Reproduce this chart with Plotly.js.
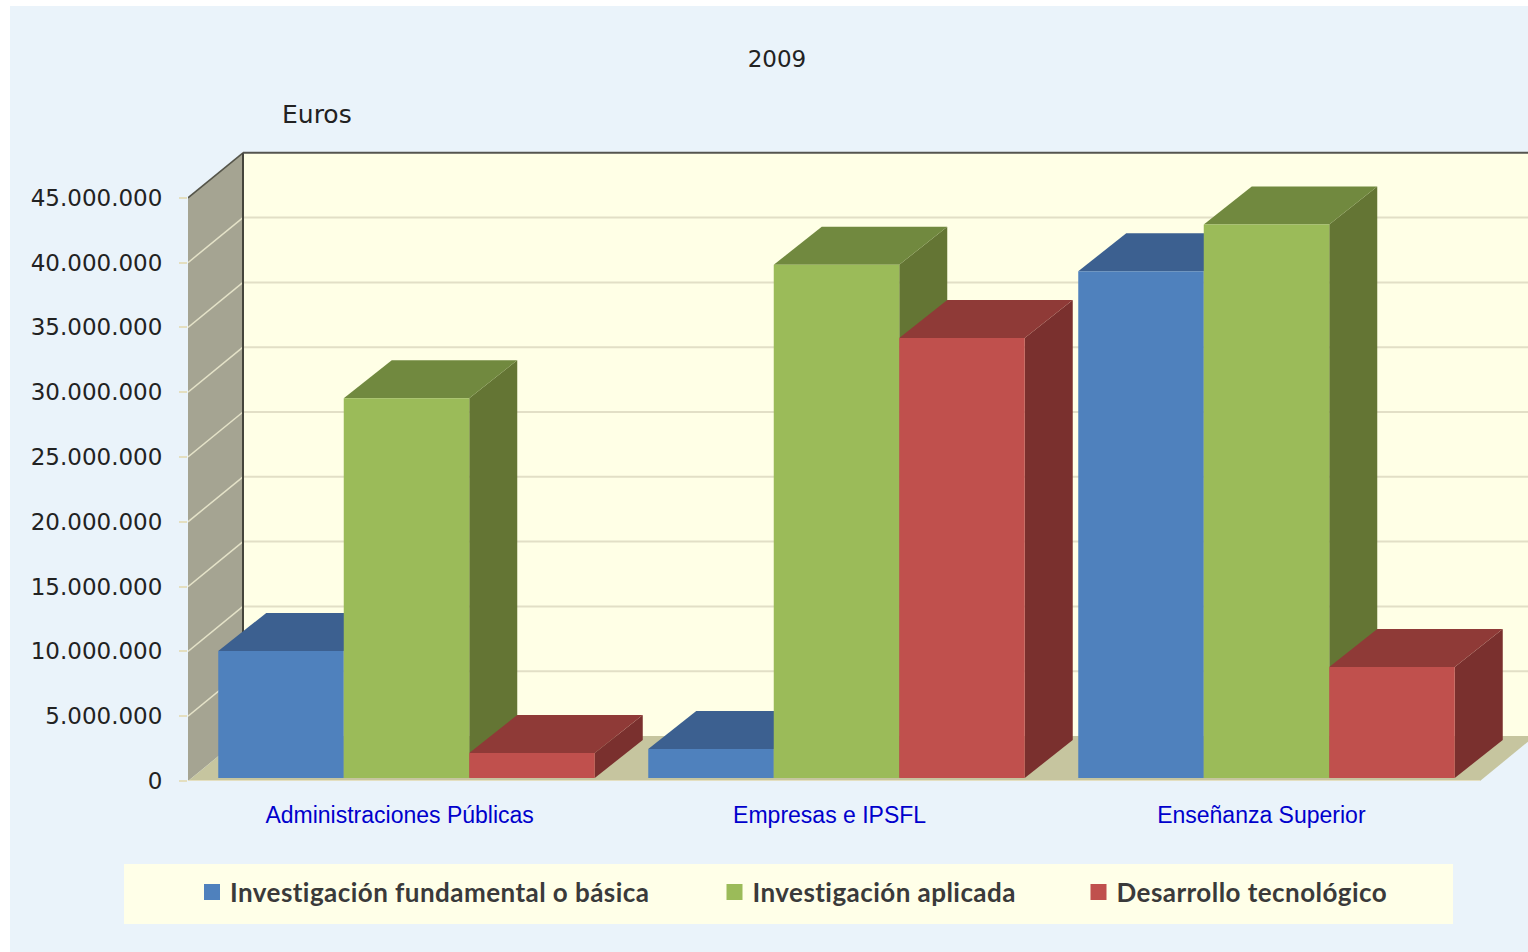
<!DOCTYPE html>
<html><head><meta charset="utf-8">
<script src="https://cdn.plot.ly/plotly-3.0.1.min.js"></script>
<style>html,body{margin:0;padding:0;background:#fff;overflow:hidden}#c{width:1528px;height:952px}
.legendtext,.legend2text,.legend3text{letter-spacing:.45px}
.legendpoints path{d:path("M10,8H-6V-8H10z") !important}</style>
</head><body><div id="c"></div>
<script>
const categories = ["Administraciones Públicas", "Empresas e IPSFL", "Enseñanza Superior"];
const basica = [9800000, 2240000, 39100000];
const aplicada = [29300000, 39600000, 42700000];
const desarrollo = [1930000, 33950000, 8560000];
const seriesNames = ["Investigación fundamental o básica", "Investigación aplicada", "Desarrollo tecnológico"];
const yTicks = [0, 5e6, 10e6, 15e6, 20e6, 25e6, 30e6, 35e6, 40e6, 45e6];
const yTickLabels = ["0", "5.000.000", "10.000.000", "15.000.000", "20.000.000", "25.000.000", "30.000.000", "35.000.000", "40.000.000", "45.000.000"];

const front = ["#4F81BD", "#9BBB59", "#C0504D"];
const topC = ["#3C6090", "#71893F", "#8F3A37"];
const sideC = ["#355680", "#647534", "#7A302E"];

const W = 1528, H = 952, L = 188, R = 1528, B = 781, T = 150, C0 = 406.5;
const pxPerUnitY = 12.96 / 1e6, pxPerCat = 430;
const xMin = (L - C0) / pxPerCat, xMax = (R - C0) / pxPerCat, yMax = (B - T) / pxPerUnitY;
const dxPx = v => v / pxPerCat, dyPx = v => v / pxPerUnitY;
const px = x => (x - L) / (R - L), py = y => (B - y) / (B - T);

const barW = 376.5 / 3 / pxPerCat;
const bDx = dxPx(48), bDy = dyPx(38), base0 = dyPx(3);
const wDx = dxPx(55), wDy = dyPx(45);
const xFrontEnd = (1480 - C0) / pxPerCat;
const series = [basica, aplicada, desarrollo];
const labelShift = [-0.016, -0.016, -0.012];

const traces = [];
function poly(xs, ys, color) {
  traces.push({type: "scatter", mode: "lines", x: xs.concat(xs[0]), y: ys.concat(ys[0]), fill: "toself",
    fillcolor: color, line: {width: 0, color: color}, hoverinfo: "skip", showlegend: false, xaxis: "x", yaxis: "y"});
}
categories.forEach((c, i) => {
  series.forEach((s, j) => {
    const xl = i - 1.5 * barW + j * barW, xr = xl + barW, b = base0, h = base0 + s[i];
    poly([xr, xr + bDx, xr + bDx, xr], [b, b + bDy, h + bDy, h], sideC[j]);
    poly([xl, xr, xr + bDx, xl + bDx], [h, h, h + bDy, h + bDy], topC[j]);
  });
});
const legendIds = ["legend", "legend2", "legend3"];
series.forEach((s, j) => {
  traces.push({type: "bar", name: seriesNames[j], x: categories.map((c, i) => i), y: s, base: base0,
    marker: {color: front[j], line: {width: 0, color: front[j]}}, xaxis: "x2", yaxis: "y2", legend: legendIds[j]});
});

const shapes = [];
const rect = (x0, y0, x1, y1, c) => shapes.push({type: "rect", xref: "paper", yref: "paper", layer: "below",
  x0: px(x0), x1: px(x1), y0: py(y0), y1: py(y1), fillcolor: c, line: {width: 0}});
rect(10, 6, 1528, 952, "#EAF3FA");
rect(124, 864, 1453, 924, "#FFFFE8");
const path = (pts, fill, line) => shapes.push({type: "path", xref: "x", yref: "y", layer: "below",
  path: "M" + pts.map(p => p[0] + "," + p[1]).join("L") + "Z", fillcolor: fill, line: line || {width: 0}});
const seg = (x0, y0, x1, y1, c, w) => shapes.push({type: "line", xref: "x", yref: "y", layer: "below",
  x0, y0, x1, y1, line: {color: c, width: w}});
const top45 = yTicks[yTicks.length - 1];
path([[xMin + wDx, wDy], [xMax + 1, wDy], [xMax + 1, top45 + wDy], [xMin + wDx, top45 + wDy]], "#FFFFE6");
path([[xMin, 0], [xMin + wDx, wDy], [xMin + wDx, top45 + wDy], [xMin, top45]], "#A5A492");
path([[xMin, 0], [xFrontEnd, 0], [xFrontEnd + wDx, wDy], [xMin + wDx, wDy]], "#C6C59F");
yTicks.slice(1, -1).forEach(t => {
  seg(xMin + wDx, t + wDy, xMax + 1, t + wDy, "#E2DFC6", 2);
  seg(xMin, t, xMin + wDx, t + wDy, "#E4E2C8", 1.5);
});
seg(xMin, top45, xMin + wDx, top45 + wDy, "#55554A", 1.5);
seg(xMin + wDx, wDy, xMin + wDx, top45 + wDy, "#45453C", 2);
seg(xMin + wDx, top45 + wDy, xMax + 1, top45 + wDy, "#55554F", 2);
seg(xFrontEnd + wDx, wDy, xMax + 1, wDy, "#77776A", 1.5);
seg(dxPx(177 - C0), 0, xFrontEnd, 0, "#E4DFC0", 2);

const legendCommon = {orientation: "h", xanchor: "left", yanchor: "middle", bgcolor: "rgba(0,0,0,0)", borderwidth: 0,
  itemclick: false, itemdoubleclick: false, font: {family: "Lato", size: 26, weight: "bold", color: "#3a3a3a"}};

const layout = {
  width: W, height: H, autosize: false, showlegend: true,
  paper_bgcolor: "#FFFFFF", plot_bgcolor: "rgba(0,0,0,0)",
  margin: {l: L, r: W - R, t: T, b: H - B, pad: 0},
  title: {text: "2009", x: 777 / W, xref: "container", xanchor: "center", y: 1 - 59 / H, yref: "container", yanchor: "middle",
    font: {family: "DejaVu Sans", size: 23, color: "#222"}},
  barmode: "group", bargap: 1 - 3 * barW, bargroupgap: 0,
  xaxis: {type: "linear", range: [xMin, xMax], tickmode: "array", tickvals: categories.map((c, i) => i + labelShift[i]), ticktext: categories,
    showgrid: false, zeroline: false, showline: false, ticks: "", ticklabelstandoff: 18,
    tickfont: {family: "Liberation Sans", size: 23, color: "#0000CC"}, fixedrange: true},
  yaxis: {type: "linear", range: [0, yMax], tickmode: "array", tickvals: yTicks, ticktext: yTickLabels,
    showgrid: false, zeroline: false, showline: false, ticks: "outside", ticklen: 8, tickwidth: 2, tickcolor: "#E4DFC0",
    ticklabelstandoff: 12, tickfont: {family: "DejaVu Sans", size: 23, color: "#222"}, fixedrange: true},
  xaxis2: {type: "linear", overlaying: "x", range: [xMin, xMax], visible: false, fixedrange: true},
  yaxis2: {type: "linear", overlaying: "y", range: [0, yMax], visible: false, fixedrange: true},
  legend: Object.assign({x: px(190), y: py(892)}, legendCommon),
  legend2: Object.assign({x: px(712.5), y: py(892)}, legendCommon),
  legend3: Object.assign({x: px(1076.5), y: py(892)}, legendCommon),
  shapes: shapes,
  annotations: [{text: "Euros", xref: "paper", yref: "paper", x: px(317), y: py(114), xanchor: "center", yanchor: "middle", showarrow: false,
    font: {family: "DejaVu Sans", size: 25, color: "#222"}}]
};
Plotly.newPlot("c", traces, layout, {displayModeBar: false, staticPlot: true});
</script></body></html>
